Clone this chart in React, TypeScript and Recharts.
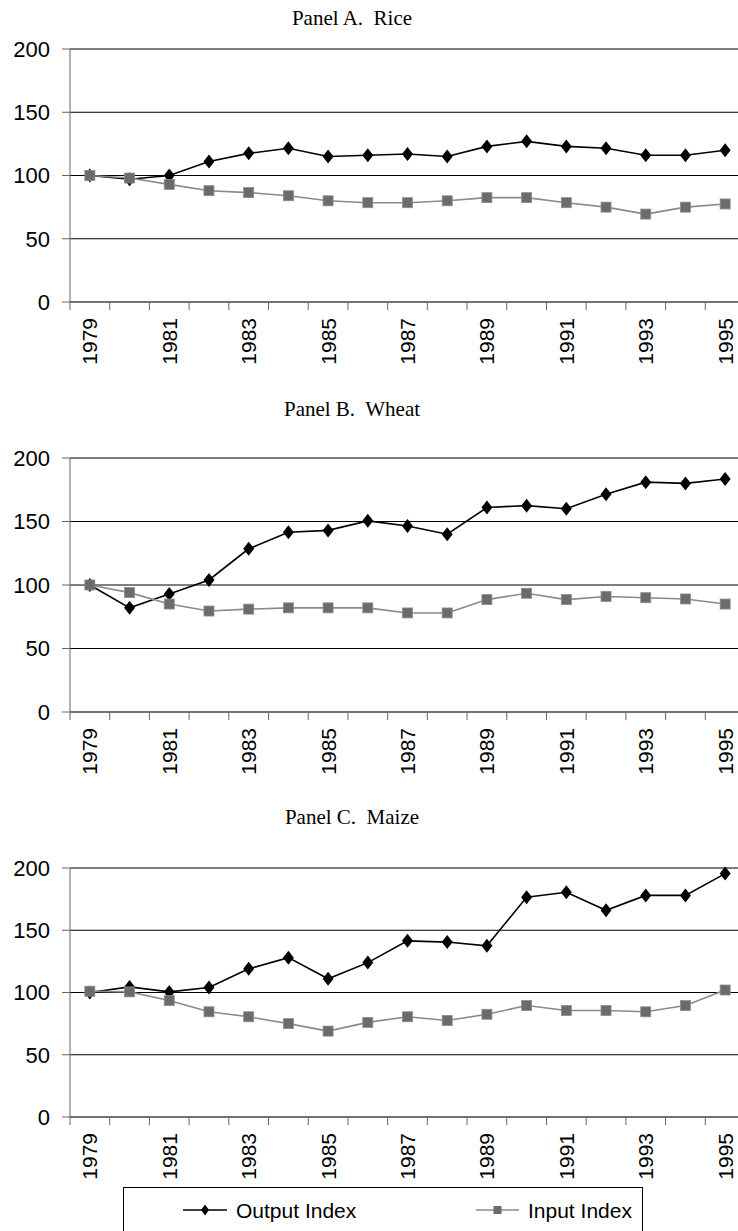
import React from 'react';
import { LineChart, Line, XAxis, YAxis, CartesianGrid } from 'recharts';

const years = [1979, 1980, 1981, 1982, 1983, 1984, 1985, 1986, 1987, 1988, 1989, 1990, 1991, 1992, 1993, 1994, 1995];

const riceOutput = [100, 97, 100, 111, 117.5, 121.5, 115, 116, 117, 115, 123, 127, 123, 121.5, 116, 116, 120];
const riceInput = [100, 98, 93, 88, 86.5, 84, 80, 78.5, 78.5, 80, 82.5, 82.5, 78.5, 75, 69.5, 75, 77.5];

const wheatOutput = [100, 82, 93, 104, 128.5, 141.5, 143, 150.5, 146.5, 140, 161, 162.5, 160, 171.5, 181, 180, 183.5];
const wheatInput = [100, 94, 85, 79.5, 81, 82, 82, 82, 78, 78, 88.5, 93.5, 88.5, 91, 90, 89, 85];

const maizeOutput = [100, 104.5, 100.5, 104, 119, 128, 111, 124, 141.5, 140.5, 137.5, 176.5, 180.5, 166, 178, 178, 195.5];
const maizeInput = [101, 100.5, 93.5, 84.5, 80.5, 75, 69, 76, 80.5, 77.5, 82.5, 89.5, 85.5, 85.5, 84.5, 89.5, 102];

const yTicks = [0, 50, 100, 150, 200];
// band edges (for tick marks) plus the year centres (for labels)
const xTicks = [...years.map((y) => y - 0.5), ...years, years[years.length - 1] + 0.5];

const SANS = '"Liberation Sans", Arial, sans-serif';
const SERIF = '"Liberation Serif", "Times New Roman", serif';

const TOP_PAD = 20;

const XTick = (props: any) => {
  const { x, y, payload } = props;
  const v = payload.value as number;
  if (v % 1 !== 0) {
    return <line x1={x} x2={x} y1={y} y2={y + 8} stroke="#666" strokeWidth={1} />;
  }
  if (v % 2 === 0) return <g />;
  const ty = y + 16;
  return (
    <text
      x={x}
      y={ty}
      transform={`rotate(-90 ${x} ${ty})`}
      textAnchor="end"
      dy="0.36em"
      fontSize={21}
      fontFamily={SANS}
      fill="#000"
    >
      {v}
    </text>
  );
};

const Diamond = (props: any) => {
  const { cx, cy, index } = props;
  if (cx == null || cy == null) return <g key={index} />;
  return (
    <path
      key={index}
      d={`M${cx},${cy - 7} L${cx + 5.5},${cy} L${cx},${cy + 7} L${cx - 5.5},${cy} Z`}
      fill="#000"
    />
  );
};

const Square = (props: any) => {
  const { cx, cy, index } = props;
  if (cx == null || cy == null) return <g key={index} />;
  return <rect key={index} x={cx - 5} y={cy - 5} width={10} height={10} fill="#6b6b6b" stroke="#8c8c8c" strokeWidth={0.8} />;
};

interface PanelProps {
  title: string;
  output: number[];
  input: number[];
  plotTop: number;
  plotHeight: number;
  titleBaseline: number;
}

function Panel({ title, output, input, plotTop, plotHeight, titleBaseline }: PanelProps) {
  const data = years.map((year, i) => ({ year, output: output[i], input: input[i] }));
  return (
    <>
      <div
        style={{
          position: 'absolute',
          left: 252,
          width: 200,
          top: titleBaseline - 19,
          textAlign: 'center',
          fontFamily: SERIF,
          fontSize: 21,
          lineHeight: '24px',
          color: '#000',
          whiteSpace: 'pre',
        }}
      >
        {title}
      </div>
      <div style={{ position: 'absolute', left: 0, top: plotTop - TOP_PAD }}>
        <LineChart
          width={760}
          height={TOP_PAD + plotHeight + 70}
          data={data}
          margin={{ top: TOP_PAD, right: 15, left: 0, bottom: 0 }}
        >
          <CartesianGrid vertical={false} stroke="#000" strokeWidth={1} />
          <XAxis
            dataKey="year"
            type="number"
            domain={[1978.5, 1995.5]}
            ticks={xTicks}
            interval={0}
            tickSize={0}
            tickMargin={0}
            tickLine={false}
            tick={<XTick />}
            axisLine={{ stroke: '#666' }}
            height={70}
          />
          <YAxis
            domain={[0, 200]}
            ticks={yTicks}
            interval={0}
            width={70}
            tickSize={8}
            tickMargin={12}
            axisLine={{ stroke: '#666' }}
            tickLine={{ stroke: '#666' }}
            tick={{ fill: '#000', fontSize: 22, fontFamily: SANS }}
          />
          <Line
            dataKey="output"
            type="linear"
            stroke="#000"
            strokeWidth={1.6}
            dot={<Diamond />}
            activeDot={false}
            isAnimationActive={false}
          />
          <Line
            dataKey="input"
            type="linear"
            stroke="#8a8a8a"
            strokeWidth={1.6}
            dot={<Square />}
            activeDot={false}
            isAnimationActive={false}
          />
        </LineChart>
      </div>
    </>
  );
}

function LegendBox() {
  return (
    <div
      style={{
        position: 'absolute',
        left: 123,
        top: 1187,
        width: 520,
        height: 60,
        border: '1px solid #000',
        boxSizing: 'border-box',
        background: '#fff',
      }}
    >
      <svg width={520} height={44} style={{ position: 'absolute', left: 0, top: 0 }}>
        <line x1={59} x2={103} y1={22} y2={22} stroke="#000" strokeWidth={1.6} />
        <path d="M81,16.5 L85,22 L81,27.5 L77,22 Z" fill="#000" />
        <line x1={352} x2={395} y1={22} y2={22} stroke="#8a8a8a" strokeWidth={1.6} />
        <rect x={369.5} y={18} width={8} height={8} fill="#6b6b6b" />
        <text x={112} y={22} dy="0.36em" fontSize={21} fontFamily={SANS} fill="#000">
          Output Index
        </text>
        <text x={404} y={22} dy="0.36em" fontSize={21} fontFamily={SANS} fill="#000">
          Input Index
        </text>
      </svg>
    </div>
  );
}

export default function App() {
  return (
    <div style={{ position: 'relative', width: 738, height: 1231, overflow: 'hidden', background: '#fff' }}>
      <style>{'body{margin:0;}'}</style>
      <Panel title="Panel A.  Rice" output={riceOutput} input={riceInput} plotTop={49} plotHeight={253} titleBaseline={25} />
      <Panel title="Panel B.  Wheat" output={wheatOutput} input={wheatInput} plotTop={458} plotHeight={254} titleBaseline={416} />
      <Panel title="Panel C.  Maize" output={maizeOutput} input={maizeInput} plotTop={868} plotHeight={249} titleBaseline={824} />
      <LegendBox />
    </div>
  );
}
